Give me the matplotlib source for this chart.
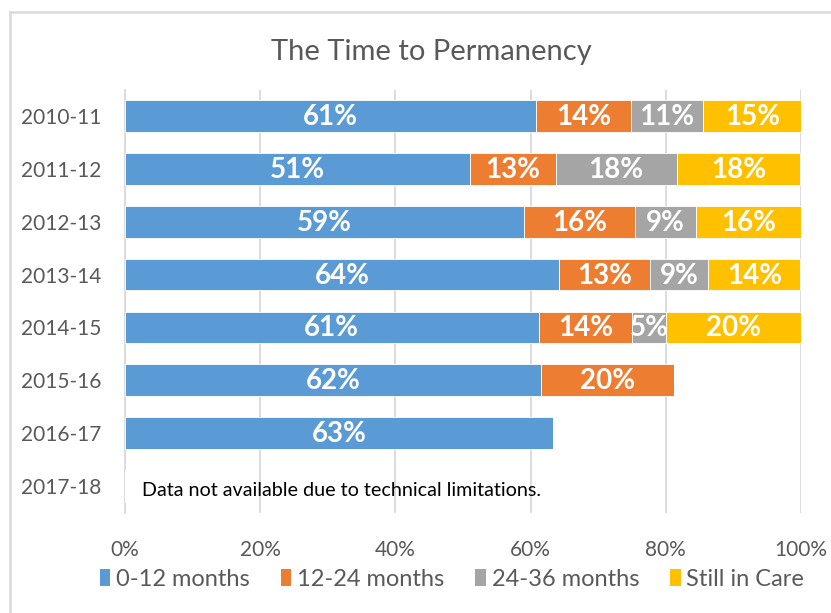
import matplotlib
matplotlib.use("Agg")
import matplotlib.pyplot as plt
import numpy as np
from matplotlib.patches import Patch
from matplotlib.lines import Line2D

categories = ['2010-11', '2011-12', '2012-13', '2013-14', '2014-15', '2015-16', '2016-17', '2017-18']
series_names = ['0-12 months', '12-24 months', '24-36 months', 'Still in Care']
s_0_12 = [60.8, 51.0, 59.0, 64.2, 61.2, 61.6, 63.3, np.nan]
s_12_24 = [14.1, 12.7, 16.4, 13.4, 13.8, 19.6, np.nan, np.nan]
s_24_36 = [10.6, 17.9, 9.0, 8.7, 5.0, np.nan, np.nan, np.nan]
s_still = [14.6, 18.3, 15.6, 13.6, 20.0, np.nan, np.nan, np.nan]
colors = ['#5B9BD5', '#ED7D31', '#A5A5A5', '#FFC000']
xticks = [0, 20, 40, 60, 80, 100]
title = 'The Time to Permanency'
note = 'Data not available due to technical limitations.'

FONT = ['Lato', 'DejaVu Sans']
plt.rcParams['font.family'] = FONT

fig = plt.figure(figsize=(8.31, 6.13), dpi=100)
W, H = 831, 613
ax = fig.add_axes([125 / W, 1 - 512.5 / H, (801 - 125) / W, (512.5 - 89.5) / H])

# chart border
fig.add_artist(Line2D([10 / W, 10 / W], [0, 1 - 12 / H], color='#d9d9d9', lw=1.8, transform=fig.transFigure))
fig.add_artist(Line2D([10 / W, 1], [1 - 12 / H, 1 - 12 / H], color='#d9d9d9', lw=1.8, transform=fig.transFigure))

y = np.arange(len(categories))
left = np.zeros(len(categories))
all_series = [s_0_12, s_12_24, s_24_36, s_still]
for vals, col, name in zip(all_series, colors, series_names):
    v = np.array(vals, dtype=float)
    vv = np.nan_to_num(v)
    ax.barh(y, vv, left=left, height=0.6, color=col, label=name, edgecolor='white', linewidth=0.6, zorder=3)
    for i, val in enumerate(v):
        if not np.isnan(val):
            ax.text(left[i] + val / 2, y[i] + 0.02, f"{val:.0f}%", ha='center', va='center',
                    color='white', fontsize=20, fontweight='bold', zorder=4)
    left += vv

ax.text(2.5, 7.08, note, ha='left', va='center', fontsize=14.2, color='black', zorder=4)

ax.set_xlim(0, 100)
ax.set_ylim(len(categories) - 0.5, -0.5)
ax.set_xticks(xticks)
ax.set_xticklabels([f"{t}%" for t in xticks])
ax.set_yticks(y)
ax.set_yticklabels(categories)
ax.tick_params(axis='both', length=0, labelsize=15, labelcolor='#595959')
ax.tick_params(axis='x', pad=20)
ax.tick_params(axis='y', pad=17)
ax.grid(axis='x', color='#d9d9d9', lw=1.3, zorder=0)
ax.set_axisbelow(True)
for s in ['top', 'right', 'bottom']:
    ax.spines[s].set_visible(False)
ax.spines['left'].set_color('#d9d9d9')
ax.spines['left'].set_linewidth(1.3)

fig.text(431 / W, 1 - 52 / H, title, ha='center', va='center', fontsize=21, color='#595959')

handles = [Patch(facecolor=c, edgecolor='none') for c in colors]
fig.legend(handles, series_names, loc='center', bbox_to_anchor=(452 / W, 1 - 579 / H), ncol=4,
           frameon=False, fontsize=17, handlelength=0.45, handleheight=0.7, handletextpad=0.25,
           columnspacing=1.3, labelcolor='#595959')

fig.savefig('out.png', dpi=100)
